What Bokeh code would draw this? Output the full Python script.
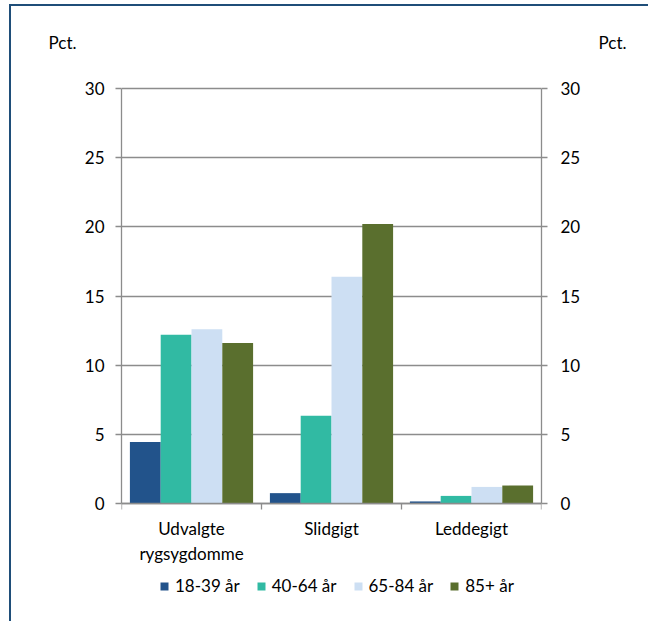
from bokeh.plotting import figure
from bokeh.models import (ColumnDataSource, Range1d, LinearAxis,
                          FixedTicker, Legend, LegendItem)
from bokeh.transform import dodge
from bokeh.embed import file_html
from bokeh.resources import INLINE

categories = ["Udvalgte\nrygsygdomme", "Slidgigt", "Leddegigt"]
series_names = ["18-39 år", "40-64 år", "65-84 år", "85+ år"]
v_18_39 = [4.45, 0.75, 0.15]
v_40_64 = [12.2, 6.35, 0.55]
v_65_84 = [12.6, 16.4, 1.2]
v_85p = [11.6, 20.2, 1.3]
y_ticks = [0, 5, 10, 15, 20, 25, 30]
y_unit = "Pct."

colors = ["#22538b", "#31baa3", "#cddff3", "#5a6f2e"]
FONT = "Lato"
FS = "17px"
GRAY = "#8c8c8c"

n = len(categories)
centers = [i + 0.5 for i in range(n)]
bounds = list(range(n + 1))
src = ColumnDataSource(dict(xc=centers, a=v_18_39, b=v_40_64, c=v_65_84, d=v_85p))

# frame extends above 30 (for the unit labels) and below 0 (for the legend)
p = figure(x_range=Range1d(0, n), y_range=Range1d(-7.735, 33.33), width=639, height=617,
           output_backend="svg", toolbar_location=None, x_axis_location=None,
           y_axis_location=None,
           min_border_left=110, min_border_right=109, min_border_top=36,
           min_border_bottom=13)
p.styles = {"border-top": "2px solid #1f4e79", "border-left": "2px solid #1f4e79",
            "margin-left": "9px", "margin-top": "4px"}
p.outline_line_color = None
p.xgrid.grid_line_color = None
p.ygrid.grid_line_color = GRAY
p.ygrid.grid_line_width = 1.3
p.ygrid.ticker = FixedTicker(ticks=y_ticks)

offsets = [-0.33, -0.11, 0.11, 0.33]
keys = ["a", "b", "c", "d"]
rends = []
for k, off, col in zip(keys, offsets, colors):
    r = p.vbar(x=dodge("xc", off), top=k, width=0.22, source=src,
               fill_color=col, line_color=None)
    rends.append(r)

# y axes (bounded to 0..30)
for side, standoff in (("left", 11), ("right", 13)):
    ax = LinearAxis(ticker=FixedTicker(ticks=y_ticks), bounds=(0, 30))
    ax.axis_line_color = GRAY
    ax.axis_line_width = 1.3
    ax.major_tick_line_color = GRAY
    ax.major_tick_line_width = 1.3
    ax.major_tick_in = 0
    ax.major_tick_out = 6
    ax.minor_tick_line_color = None
    ax.major_label_standoff = standoff
    ax.major_label_text_font = FONT
    ax.major_label_text_font_size = FS
    ax.major_label_text_color = "#000000"
    p.add_layout(ax, side)

# unit labels ("Pct.") at the top end, outside the tick labels
for side, lab_standoff in (("left", 5), ("right", 15)):
    ua = LinearAxis(ticker=FixedTicker(ticks=[]))
    ua.axis_line_color = None
    ua.major_tick_line_color = None
    ua.minor_tick_line_color = None
    ua.major_tick_out = 0
    ua.major_label_standoff = 0
    ua.axis_label = y_unit
    ua.axis_label_orientation = "horizontal"
    ua.axis_label_align = "end"
    ua.axis_label_standoff = lab_standoff
    ua.axis_label_text_font = FONT
    ua.axis_label_text_font_size = FS
    ua.axis_label_text_font_style = "normal"
    ua.axis_label_text_color = "#000000"
    p.add_layout(ua, side)

# category axis at y=0: labels at centres, ticks (minor) at category boundaries
cx = LinearAxis(ticker=FixedTicker(ticks=centers, minor_ticks=bounds), fixed_location=0)
cx.major_label_overrides = {c: lab for c, lab in zip(centers, categories)}
cx.axis_line_color = GRAY
cx.axis_line_width = 1.3
cx.major_tick_line_color = None
cx.minor_tick_line_color = GRAY
cx.minor_tick_line_width = 1.3
cx.minor_tick_in = 0
cx.minor_tick_out = 6
cx.major_label_standoff = 8
cx.major_label_text_font = FONT
cx.major_label_text_font_size = FS
cx.major_label_text_color = "#000000"
p.add_layout(cx, "below")

legend = Legend(items=[LegendItem(label=nm, renderers=[r]) for nm, r in zip(series_names, rends)],
                orientation="horizontal", location=(38, 14))
legend.glyph_width = 10
legend.glyph_height = 10
legend.label_standoff = 6
legend.spacing = 16
legend.padding = 0
legend.margin = 0
legend.border_line_color = None
legend.background_fill_alpha = 0
legend.label_text_font = FONT
legend.label_text_font_size = FS
legend.label_text_color = "#000000"
p.add_layout(legend, "center")

open("out.html", "w").write(file_html(p, INLINE))
